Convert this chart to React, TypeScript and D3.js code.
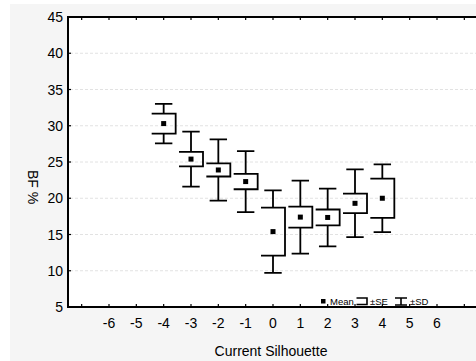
import { useRef, useEffect } from "react";
import * as d3 from "d3";

const silhouettes = [-4, -3, -2, -1, 0, 1, 2, 3, 4];
const means = [30.3, 25.4, 23.9, 22.3, 15.4, 17.4, 17.35, 19.3, 20.0];
const se = [1.38, 1.0, 0.9, 1.06, 3.3, 1.45, 1.1, 1.35, 2.7];
const sd = [2.72, 3.8, 4.23, 4.2, 5.7, 5.03, 3.98, 4.67, 4.67];
const xTicks = [-7, -6, -5, -4, -3, -2, -1, 0, 1, 2, 3, 4, 5, 6, 7];
const xLabels = [-6, -5, -4, -3, -2, -1, 0, 1, 2, 3, 4, 5, 6];
const yTicks = [5, 10, 15, 20, 25, 30, 35, 40, 45];

export default function App() {
  const svgRef = useRef<SVGSVGElement>(null);

  useEffect(() => {
    if (!svgRef.current) return;
    const svg = d3.select(svgRef.current);
    svg.selectAll("*").remove();

    const W = 476;
    const H = 361;
    const left = 68;
    const right = 478;
    const top = 17;
    const bottom = 307;
    const font = "'Liberation Sans', Arial, sans-serif";

    svg.attr("width", W).attr("height", H);

    svg.append("rect").attr("width", W).attr("height", H).attr("fill", "#fff");
    svg
      .append("rect")
      .attr("x", 10)
      .attr("y", 4)
      .attr("width", W - 10)
      .attr("height", H - 4)
      .attr("fill", "#f5f5f5");

    const x = d3.scaleLinear().domain([-7.5, 7.5]).range([left, right]);
    const y = d3.scaleLinear().domain([5, 45]).range([bottom, top]);

    svg
      .append("rect")
      .attr("x", left)
      .attr("y", top)
      .attr("width", right - left)
      .attr("height", bottom - top)
      .attr("fill", "#fff");

    // grid
    svg
      .append("g")
      .selectAll("line")
      .data(yTicks.filter((t) => t > 5 && t < 45))
      .join("line")
      .attr("x1", left + 2)
      .attr("x2", right)
      .attr("y1", (d) => y(d))
      .attr("y2", (d) => y(d))
      .attr("stroke", "#e2e2e2")
      .attr("stroke-dasharray", "3,2");

    // axes
    const axes = svg.append("g").attr("stroke", "#000").attr("stroke-width", 2);
    axes.append("line").attr("x1", left).attr("x2", right).attr("y1", bottom).attr("y2", bottom);
    axes.append("line").attr("x1", left).attr("x2", right).attr("y1", top).attr("y2", top);
    axes.append("line").attr("x1", left).attr("x2", left).attr("y1", top - 1).attr("y2", bottom + 1);

    const ticks = svg.append("g").attr("stroke", "#000").attr("stroke-width", 1.2);
    xTicks.forEach((t) => {
      ticks.append("line").attr("x1", x(t)).attr("x2", x(t)).attr("y1", bottom).attr("y2", bottom - 3);
      ticks.append("line").attr("x1", x(t)).attr("x2", x(t)).attr("y1", top).attr("y2", top + 3);
    });
    yTicks.forEach((t) => {
      ticks.append("line").attr("x1", left).attr("x2", left + 3).attr("y1", y(t)).attr("y2", y(t));
    });

    svg
      .append("g")
      .selectAll("text")
      .data(yTicks)
      .join("text")
      .attr("x", left - 5)
      .attr("y", (d) => y(d) + 5)
      .attr("text-anchor", "end")
      .attr("font-family", font)
      .attr("font-size", 14)
      .text((d) => d);

    svg
      .append("g")
      .selectAll("text")
      .data(xLabels)
      .join("text")
      .attr("x", (d) => x(d))
      .attr("y", bottom + 21)
      .attr("text-anchor", "middle")
      .attr("font-family", font)
      .attr("font-size", 14)
      .text((d) => d);

    svg
      .append("text")
      .attr("transform", `translate(28,${187}) rotate(90)`)
      .attr("text-anchor", "middle")
      .attr("font-family", font)
      .attr("font-size", 14)
      .text("BF %");

    svg
      .append("text")
      .attr("x", 271)
      .attr("y", 356)
      .attr("text-anchor", "middle")
      .attr("font-family", font)
      .attr("font-size", 14)
      .text("Current Silhouette");

    // box symbols
    const boxHalf = 12;
    const capHalf = 8.7;
    const marks = svg
      .append("g")
      .attr("fill", "none")
      .attr("stroke", "#000")
      .attr("stroke-width", 1.8);

    silhouettes.forEach((s, i) => {
      const cx = x(s);
      const m = means[i];
      const seTop = y(m + se[i]);
      const seBot = y(m - se[i]);
      const sdTop = y(m + sd[i]);
      const sdBot = y(m - sd[i]);
      marks
        .append("path")
        .attr("d", `M${cx - boxHalf},${seTop}H${cx + boxHalf}V${seBot}H${cx - boxHalf}`);
      marks
        .append("path")
        .attr(
          "d",
          `M${cx - capHalf},${sdTop}H${cx + capHalf}M${cx},${sdTop}V${seTop}` +
            `M${cx},${seBot}V${sdBot}M${cx - capHalf},${sdBot}H${cx + capHalf}`,
        );
      svg
        .append("rect")
        .attr("x", cx - 2.5)
        .attr("y", y(m) - 2.5)
        .attr("width", 5)
        .attr("height", 5)
        .attr("fill", "#000");
    });

    // legend
    const lg = svg.append("g").attr("font-family", font).attr("font-size", 9.5);
    lg.append("rect").attr("x", 321).attr("y", 299).attr("width", 4.5).attr("height", 4.5).attr("fill", "#000");
    lg.append("text").attr("x", 330).attr("y", 305).text("Mean");
    lg.append("path")
      .attr("d", "M356.5,298H367V304.5H356.5")
      .attr("fill", "none")
      .attr("stroke", "#000")
      .attr("stroke-width", 1.6);
    lg.append("text").attr("x", 370).attr("y", 305).text("±SE");
    lg.append("path")
      .attr("d", "M395,298H407M401,298V305M395,305H407")
      .attr("fill", "none")
      .attr("stroke", "#000")
      .attr("stroke-width", 1.6);
    lg.append("text").attr("x", 410).attr("y", 305).text("±SD");
  }, []);

  return (
    <div style={{ position: "fixed", left: 0, top: 0 }}>
      <svg ref={svgRef} style={{ display: "block" }} />
    </div>
  );
}
